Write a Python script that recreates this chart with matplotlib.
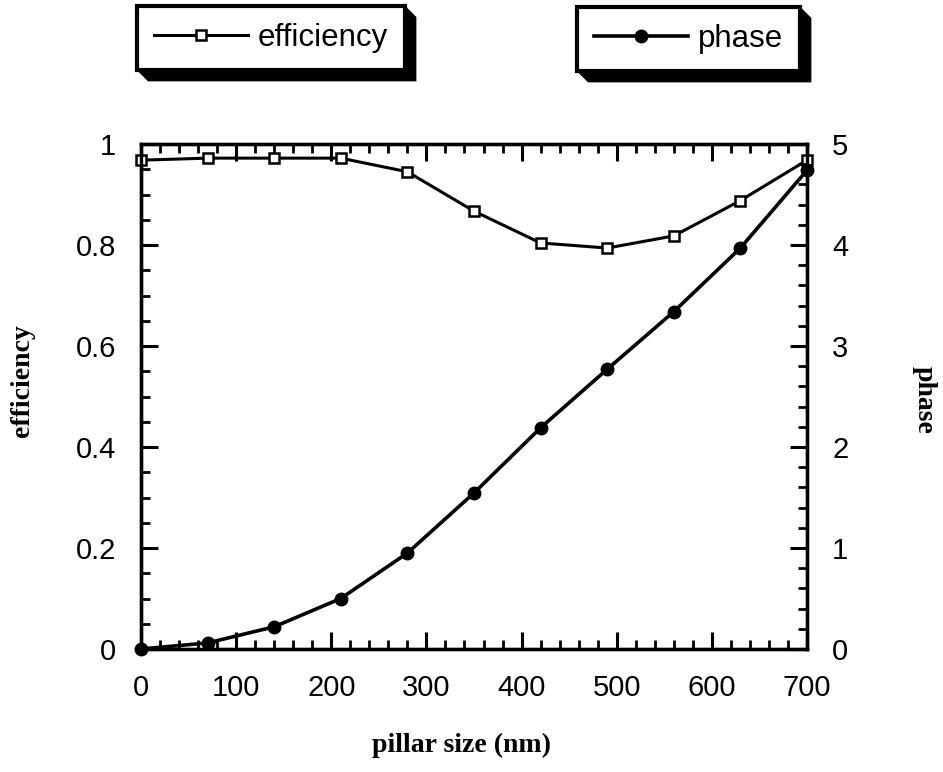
import numpy as np
import matplotlib
matplotlib.use('Agg')
import matplotlib.pyplot as plt
from matplotlib.patches import Polygon
from matplotlib.ticker import MultipleLocator, FormatStrFormatter

# values
pillar = [0, 70, 140, 210, 280, 350, 420, 490, 560, 630, 700]
efficiency = [0.968, 0.972, 0.972, 0.972, 0.945, 0.867, 0.804, 0.794, 0.818, 0.888, 0.968]
phase = [0.0, 0.06, 0.22, 0.50, 0.95, 1.545, 2.19, 2.77, 3.34, 3.97, 4.74]

tickfont = 'Liberation Sans'
labfont = 'Liberation Serif'
fs = 21

fig = plt.figure(figsize=(9.43, 7.72), dpi=100)
ax1 = fig.add_axes([141/943., 1-649/772., (807-141)/943., (649-144)/772.])
ax2 = ax1.twinx()

l1, = ax1.plot(pillar, efficiency, c='k', lw=2.2, marker='s', ms=7.5, mfc='white',
               mec='k', mew=1.8, clip_on=False, zorder=3)
l2, = ax2.plot(pillar, phase, c='k', lw=2.6, marker='o', ms=9, mfc='k', mec='k',
               clip_on=False, zorder=3)

ax1.set_xlim(0, 700)
ax1.set_ylim(0, 1)
ax2.set_ylim(0, 5)

ax1.xaxis.set_major_locator(MultipleLocator(100))
ax1.xaxis.set_minor_locator(MultipleLocator(20))
ax1.yaxis.set_major_locator(MultipleLocator(0.2))
ax1.yaxis.set_minor_locator(MultipleLocator(0.05))
ax1.yaxis.set_major_formatter(FormatStrFormatter('%g'))
ax2.yaxis.set_major_locator(MultipleLocator(1))
ax2.yaxis.set_minor_locator(MultipleLocator(0.2))

ax1.tick_params(axis='x', which='both', direction='in', top=True, bottom=True, pad=18)
ax1.tick_params(axis='y', which='both', direction='in', left=True, right=False, pad=18)
ax2.tick_params(axis='y', which='both', direction='in', right=True, left=False, pad=18)
for a in (ax1, ax2):
    a.tick_params(which='major', length=12, width=2.2, labelsize=fs)
    a.tick_params(which='minor', length=6.5, width=2.0)
    for s in a.spines.values():
        s.set_linewidth(2.4)
    for t in a.get_xticklabels() + a.get_yticklabels():
        t.set_family(tickfont)

fig.text(22/943., 1-381/772., 'efficiency', rotation=90, ha='center', va='center',
         family=labfont, weight='bold', fontsize=20)
fig.text(924/943., 1-400/772., 'phase', rotation=270, ha='center', va='center',
         family=labfont, weight='bold', fontsize=20)
fig.text(462/943., 1-745/772., 'pillar size (nm)', ha='center', va='center',
         family=labfont, weight='bold', fontsize=20)

# two separate boxed legends with a black drop shadow
def boxed_legend(handle, label, x0, y0):
    lg = fig.legend([handle], [label], loc='upper left', bbox_to_anchor=(x0/943., 1-y0/772.),
                    borderaxespad=0, fancybox=False, framealpha=1, edgecolor='k',
                    prop={'family': tickfont, 'size': 22.5}, handlelength=3.0,
                    handletextpad=0.32, borderpad=0.55)
    lg.get_frame().set_linewidth(3)
    return lg

leg1 = boxed_legend(l1, 'efficiency', 137, 6)
leg2 = boxed_legend(l2, 'phase', 577, 7)

fig.canvas.draw()
inv = fig.transFigure.inverted()
for lg in (leg1, leg2):
    bb = lg.get_window_extent()
    d = 11
    pts = [(bb.x1, bb.y1), (bb.x1 + d, bb.y1 - d), (bb.x1 + d, bb.y0 - d),
           (bb.x0 + d, bb.y0 - d), (bb.x0, bb.y0)]
    poly = Polygon(inv.transform(pts), closed=True, fc='k', ec='k', lw=0,
                   transform=fig.transFigure, zorder=lg.get_zorder() - 0.5)
    fig.add_artist(poly)

fig.savefig('out.png', dpi=100)
